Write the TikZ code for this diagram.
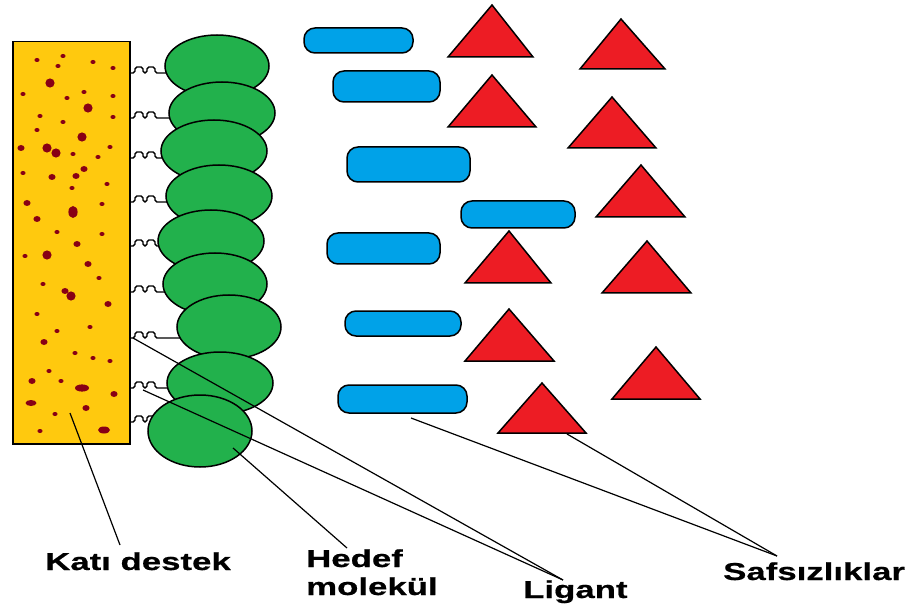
\documentclass[tikz,border=0pt]{standalone}
\usepackage{fontspec}
\newfontfamily\lblfont[FakeStretch=1.42, FakeBold=0.6]{Liberation Sans}
\definecolor{pgreen}{RGB}{34,177,76}
\definecolor{pred}{RGB}{237,28,36}
\definecolor{pblue}{RGB}{0,162,232}
\definecolor{pyellow}{RGB}{255,201,14}
\definecolor{pdot}{RGB}{136,0,21}
\tikzset{
  outl/.style={draw=black, line width=1.5pt},
  cell/.style={outl, fill=pgreen},
  pill/.style={outl, fill=pblue, rounded corners=11pt},
  tri/.style={outl, fill=pred, line join=miter},
  leader/.style={draw=black, line width=1.2pt},
  lig/.style={draw=black, line width=1.4pt, rounded corners=1.8pt},
  lbl/.style={inner sep=0pt, font=\lblfont\bfseries\fontsize{24.5}{28}\selectfont, text=black}
}
\newcommand{\rdot}[4]{\fill[pdot] (#1,#2) ellipse [x radius=#3, y radius=#4];}
\newcommand{\sdot}[2]{\rdot{#1}{#2}{2.6}{2}}
\newcommand{\mdot}[2]{\rdot{#1}{#2}{3.6}{3}}
\newcommand{\ldot}[2]{\rdot{#1}{#2}{4.6}{4.6}}
\newcommand{\lig}[2]{\draw[lig] (130,#1) -- (135,#1) -- (135,#1-6) -- (143,#1-6) -- (143,#1) -- (147,#1) -- (147,#1-6) -- (155,#1-6) -- (155,#1) -- (#2,#1);}
\begin{document}
\begin{tikzpicture}[x=1pt,y=-1pt]
\useasboundingbox (0,0) rectangle (910,612);
\fill[white] (0,0) rectangle (910,612);

% solid support
\node[outl, fill=pyellow, minimum width=117pt, minimum height=402pt, inner sep=0pt, anchor=north west] (support) at (12,41) {};
% dots
\sdot{37}{60}\sdot{63}{56}\sdot{58}{66}\sdot{93}{62}\sdot{113}{68}
\ldot{50}{83}\sdot{23}{94}\sdot{84}{92}\sdot{67}{98}\sdot{113}{96}
\ldot{88}{108}\sdot{40}{116}\sdot{63}{122}\sdot{113}{117}\sdot{37}{130}
\ldot{82}{137}\mdot{21}{148}\ldot{47}{148}\ldot{56}{153}\sdot{73}{154}
\sdot{110}{147}\sdot{98}{157}\sdot{23}{173}\mdot{52}{177}
\mdot{76}{176}\mdot{84}{169}\sdot{107}{184}\sdot{72}{188}\mdot{27}{203}
\rdot{73}{212}{4.6}{6}\mdot{37}{219}\sdot{102}{204}\sdot{57}{232}\sdot{102}{234}
\mdot{77}{244}\sdot{25}{256}\ldot{47}{255}\mdot{88}{264}\sdot{43}{284}
\sdot{99}{278}\mdot{65}{291}\ldot{71}{296}\mdot{108}{304}\sdot{37}{314}
\sdot{90}{327}\sdot{57}{331}\mdot{44}{342}\sdot{75}{353}\sdot{93}{358}
\sdot{110}{361}\sdot{49}{371}\sdot{61}{381}\mdot{32}{381}
\rdot{82}{388}{7}{3.6}\mdot{114}{394}\rdot{31}{403}{5.5}{3}\mdot{86}{408}
\sdot{55}{414}\sdot{40}{431}\rdot{104}{430}{6}{3.5}

% ligand squiggles
\lig{73}{175}\lig{118}{180}\lig{158}{172}\lig{202}{177}\lig{246}{170}
\lig{292}{173}\lig{338}{185}\lig{388}{178}\lig{422}{160}

% target molecules
\draw[cell] (217,66) ellipse [x radius=52, y radius=31];
\draw[cell] (222,113) ellipse [x radius=53, y radius=31];
\draw[cell] (214,151) ellipse [x radius=53, y radius=31];
\draw[cell] (219,196) ellipse [x radius=53, y radius=31];
\draw[cell] (211,241) ellipse [x radius=53, y radius=31];
\draw[cell] (215,284) ellipse [x radius=52, y radius=31];
\draw[cell] (229,327) ellipse [x radius=52, y radius=32];
\draw[cell] (220,383) ellipse [x radius=53, y radius=31];
\draw[cell] (200,431) ellipse [x radius=52, y radius=36];

% impurities: pills
\draw[pill] (304,28) rectangle (413,53);
\draw[pill] (333,71) rectangle (440,102);
\draw[pill] (347,147) rectangle (470,182);
\draw[pill] (461,201) rectangle (575,228);
\draw[pill] (327,233) rectangle (440,264);
\draw[pill] (345,311) rectangle (461,336);
\draw[pill] (338,385) rectangle (467,413);

% impurities: triangles
\draw[tri] (492,5) -- (533,57) -- (448,57) -- cycle;
\draw[tri] (621,19) -- (665,69) -- (580,69) -- cycle;
\draw[tri] (492,75) -- (536,127) -- (448,127) -- cycle;
\draw[tri] (612,97) -- (656,148) -- (568,148) -- cycle;
\draw[tri] (641,165) -- (685,217) -- (596,217) -- cycle;
\draw[tri] (509,231) -- (551,283) -- (465,283) -- cycle;
\draw[tri] (647,241) -- (691,293) -- (602,293) -- cycle;
\draw[tri] (509,309) -- (554,361) -- (465,361) -- cycle;
\draw[tri] (656,347) -- (700,399) -- (612,399) -- cycle;
\draw[tri] (542,383) -- (586,433) -- (498,433) -- cycle;

% labels
\node[lbl, anchor=base west] (katı) at (45,570) {Katı destek};
\node[lbl, anchor=base west, align=left] (hedef) at (306,595) {Hedef\\molekül};
\node[lbl, anchor=base west] (ligant) at (523,598) {Ligant};
\node[lbl, anchor=base west] (safs) at (723,580) {Safsızlıklar};

% leader line ends
\coordinate (kA) at (70,413);  \coordinate (kB) at (120,545);
\coordinate (hA) at (233,448); \coordinate (hB) at (347,548);
\coordinate (lA) at (133,338); \coordinate (lA2) at (143,390); \coordinate (lB) at (563,580);
\coordinate (sA) at (567,434); \coordinate (sA2) at (411,418); \coordinate (sB) at (777,556);

\draw[leader] (kA) -- (kB);
\draw[leader] (hA) -- (hB);
\draw[leader] (lA) -- (lB);
\draw[leader] (lA2) -- (lB);
\draw[leader] (sA) -- (sB);
\draw[leader] (sA2) -- (sB);
\end{tikzpicture}
\end{document}
